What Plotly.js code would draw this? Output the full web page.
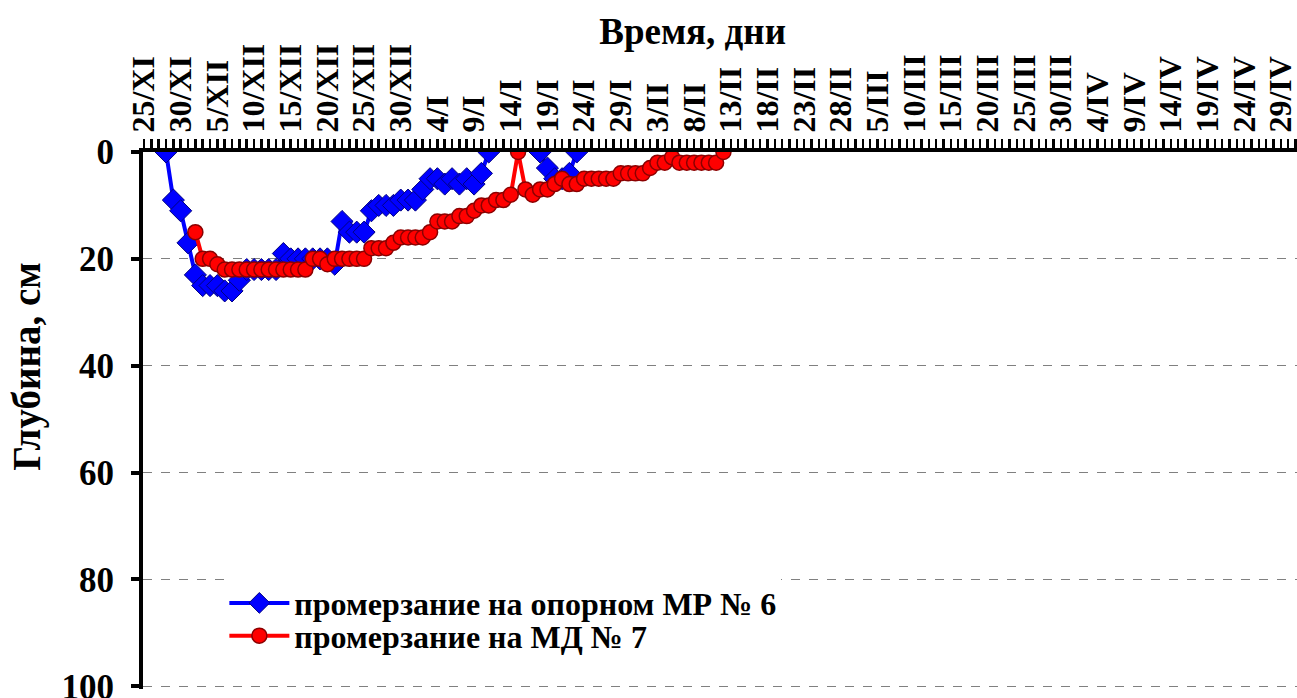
<!DOCTYPE html>
<html>
<head>
<meta charset="utf-8">
<script src="https://cdn.plot.ly/plotly-3.0.1.min.js"></script>
<style>html,body{margin:0;padding:0;background:#fff;}#chart{width:1297px;height:698px;}</style>
</head>
<body>
<div id="chart"></div>
<script>
// Day index 0 = 25/XI
const tickDays = [0,5,10,15,20,25,30,35,40,45,50,55,60,65,70,75,80,85,90,95,100,105,110,115,120,125,130,135,140,145,150,155];
const tickLabels = ['25/XI','30/XI','5/XII','10/XII','15/XII','20/XII','25/XII','30/XII','4/I','9/I','14/I','19/I','24/I','29/I','3/II','8/II','13/II','18/II','23/II','28/II','5/III','10/III','15/III','20/III','25/III','30/III','4/IV','9/IV','14/IV','19/IV','24/IV','29/IV'];

// промерзание на опорном МР № 6 (days 3..59)
const mrDays = [3,4,5,6,7,8,9,10,11,12,13,14,15,16,17,18,19,20,21,22,23,24,25,26,27,28,29,30,31,32,33,34,35,36,37,38,39,40,41,42,43,44,45,46,47,48,49,50,51,52,53,54,55,56,57,58,59];
const mrDepth = [0,9,11,17,23,25,25,25,26,26,24,22,22,22,22,22,19,20,20,20,20,20,20,21,13,15,15,15,11,10,10,10,9,9,9,7,5,5,6,5,6,5,6,4,0,null,null,null,null,null,null,0,3,5,5,4,0];

// промерзание на МД № 7 (days 7..79)
const mdDays = [7,8,9,10,11,12,13,14,15,16,17,18,19,20,21,22,23,24,25,26,27,28,29,30,31,32,33,34,35,36,37,38,39,40,41,42,43,44,45,46,47,48,49,50,51,52,53,54,55,56,57,58,59,60,61,62,63,64,65,66,67,68,69,70,71,72,73,74,75,76,77,78,79];
const mdDepth = [15,20,20,21,22,22,22,22,22,22,22,22,22,22,22,22,20,20,21,20,20,20,20,20,18,18,18,17,16,16,16,16,15,13,13,13,12,12,11,10,10,9,9,8,0,7,8,7,7,6,5,6,6,5,5,5,5,5,4,4,4,4,3,2,2,1,2,2,2,2,2,2,0];

const yTitle = 'Глубина, см';
const fam = 'Liberation Serif';

const traces = [
  {
    x: mrDays, y: mrDepth, type: 'scatter', mode: 'lines+markers',
    name: 'промерзание на опорном МР № 6',
    legend: 'legend',
    connectgaps: false,
    line: {color: '#0000FF', width: 4},
    marker: {symbol: 'diamond', size: 17, color: '#0000FF', line: {color: '#000080', width: 1}}
  },
  {
    x: mdDays, y: mdDepth, type: 'scatter', mode: 'lines+markers',
    name: 'промерзание на МД № 7',
    legend: 'legend2',
    line: {color: '#FF0000', width: 4},
    marker: {symbol: 'circle', size: 15, color: '#FF0000', line: {color: '#8B0000', width: 1.5}}
  }
];

const legendFont = {family: fam, size: 32, color: '#000', weight: 'bold'};

const layout = {
  width: 1297, height: 698,
  margin: {l: 143, r: 0, t: 152, b: 9},
  paper_bgcolor: '#fff', plot_bgcolor: '#fff',
  showlegend: true,
  title: {
    text: 'Время, дни',
    font: {family: fam, size: 37, color: '#000', weight: 'bold'},
    xref: 'container', yref: 'container', x: 0.534, y: 0.955, xanchor: 'center', yanchor: 'middle'
  },
  xaxis: {
    side: 'top',
    range: [-0.14, 157.2],
    tickmode: 'array', tickvals: tickDays, ticktext: tickLabels,
    tickangle: -90,
    tickfont: {family: fam, size: 32, color: '#000', weight: 'bold'},
    ticklabeloverflow: 'allow',
    ticks: 'outside', ticklen: 9, tickwidth: 2.5, tickcolor: '#000',
    minor: {dtick: 1, tick0: 0, ticks: 'outside', ticklen: 9, tickwidth: 2.5, tickcolor: '#000', showgrid: false},
    showline: true, linecolor: '#000', linewidth: 4,
    showgrid: false, zeroline: false, fixedrange: true,
    automargin: false
  },
  yaxis: {
    range: [100.5, 0],
    tickvals: [0, 20, 40, 60, 80, 100],
    tickfont: {family: fam, size: 35, color: '#000', weight: 'bold'},
    ticklabeloverflow: 'allow',
    ticks: 'outside', ticklen: 8, tickwidth: 4, tickcolor: '#000',
    ticklabelstandoff: 10,
    showline: true, linecolor: '#000', linewidth: 4,
    showgrid: true, gridcolor: '#808080', gridwidth: 1, griddash: 'dash',
    zeroline: false,
    automargin: false
  },
  annotations: [{
    text: yTitle, textangle: -90, showarrow: false,
    xref: 'paper', yref: 'paper', x: -0.1005, y: 0.6, xanchor: 'center', yanchor: 'middle',
    font: {family: fam, size: 39, color: '#000', weight: 'bold'}
  }],
  legend: {
    x: 0.0705, y: 0.16, xanchor: 'left', yanchor: 'middle',
    bgcolor: '#fff', borderwidth: 0, font: legendFont, itemwidth: 60
  },
  legend2: {
    x: 0.0705, y: 0.099, xanchor: 'left', yanchor: 'middle',
    bgcolor: 'rgba(0,0,0,0)', borderwidth: 0, font: legendFont, itemwidth: 60
  }
};

Plotly.newPlot('chart', traces, layout, {displayModeBar: false, staticPlot: true});
</script>
</body>
</html>
